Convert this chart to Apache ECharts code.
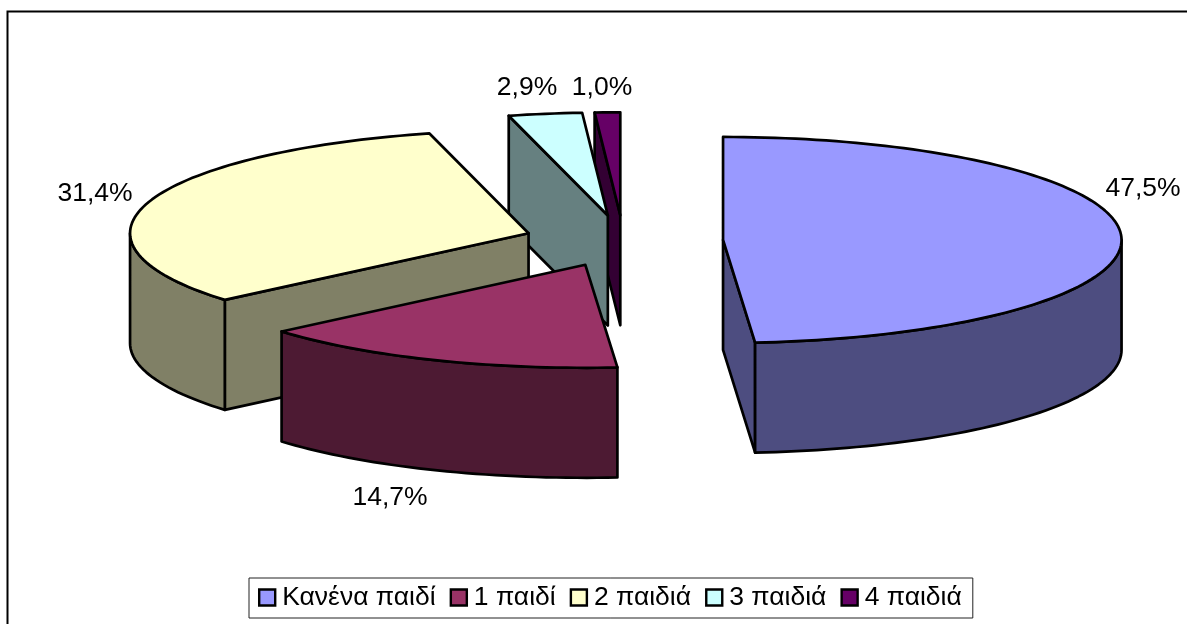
<!DOCTYPE html>
<html>
<head>
<meta charset="utf-8">
<style>html,body{margin:0;padding:0;background:#fff;overflow:hidden}#c{width:1187px;height:624px}</style>
<script src="https://cdn.jsdelivr.net/npm/echarts@6/dist/echarts.min.js"></script>
</head>
<body>
<div id="c"></div>
<script>
const categories = ['Κανένα παιδί', '1 παιδί', '2 παιδιά', '3 παιδιά', '4 παιδιά'];
const shares = [47.5, 14.7, 31.4, 2.9, 1.0];
const shareLabels = ['47,5%', '14,7%', '31,4%', '2,9%', '1,0%'];
const topColors = ['#9999FF', '#993366', '#FFFFCC', '#CCFFFF', '#660066'];
const wallColors = ['#4D4D80', '#4D1A33', '#808066', '#668080', '#330033'];

const pie = { cx: 623.5, cy: 241, rx: 398.5, ry: 103, depth: 110, explode: 0.25 };
const labelCentres = [[1143, 188.5], [390, 498], [95, 194], [527, 88], [602, 88]];

const total = shares.reduce((a, b) => a + b, 0);
const rad = Math.PI / 180;

function rim(ox, oy, a) {
  return [ox + pie.rx * Math.sin(a * rad), oy - pie.ry * Math.cos(a * rad)];
}
function arc(ox, oy, a0, a1) {
  const pts = [];
  const n = Math.max(2, Math.ceil(Math.abs(a1 - a0) / 1.5));
  for (let i = 0; i <= n; i++) pts.push(rim(ox, oy, a0 + (a1 - a0) * i / n));
  return pts;
}
const drop = p => [p[0], p[1] + pie.depth];
const edge = { stroke: '#000', lineWidth: 2.7, lineJoin: 'round' };

function sliceRenderer(index) {
  return function (params, api) {
    const share = api.value(0);
    let before = 0;
    for (let i = 0; i < index; i++) before += shares[i];
    const a0 = before / total * 360;
    const a1 = a0 + share / total * 360;
    const mid = (a0 + a1) / 2;
    const ox = pie.cx + pie.explode * pie.rx * Math.sin(mid * rad);
    const oy = pie.cy - pie.explode * pie.ry * Math.cos(mid * rad);
    const apex = [ox, oy];
    const wallFill = { fill: wallColors[index], ...edge };
    const children = [];
    const radialWall = a => {
      const p = rim(ox, oy, a);
      children.push({ type: 'polygon', shape: { points: [apex, p, drop(p), drop(apex)] }, style: wallFill });
    };
    if (Math.sin(a0 * rad) < -1e-6) radialWall(a0);
    if (Math.sin(a1 * rad) > 1e-6) radialWall(a1);
    const f0 = Math.max(a0, 90), f1 = Math.min(a1, 270);
    if (f1 > f0) {
      const upper = arc(ox, oy, f0, f1);
      children.push({ type: 'polygon', shape: { points: upper.concat(upper.slice().reverse().map(drop)) }, style: wallFill });
    }
    children.push({ type: 'polygon', shape: { points: [apex].concat(arc(ox, oy, a0, a1)) }, style: { fill: topColors[index], ...edge } });
    children.push({
      type: 'text',
      style: {
        text: shareLabels[index], x: labelCentres[index][0], y: labelCentres[index][1],
        align: 'center', verticalAlign: 'middle', fill: '#000',
        font: '26.5px "Liberation Sans", Arial, sans-serif'
      }
    });
    return { type: 'group', children };
  };
}

const chart = echarts.init(document.getElementById('c'), null, { renderer: 'canvas' });
chart.setOption({
  animation: false,
  backgroundColor: '#fff',
  tooltip: { show: false },
  graphic: [
    { type: 'polyline', silent: true, z: 0, shape: { points: [[7.5, 700], [7.5, 11.5], [1300, 11.5]] }, style: { stroke: '#000', lineWidth: 2, fill: null } }
  ],
  legend: {
    show: true, left: 249, top: 578, orient: 'horizontal',
    padding: [6, 11, 7, 9],
    backgroundColor: '#fff', borderColor: '#222', borderWidth: 1,
    icon: 'rect', itemWidth: 16, itemHeight: 16, itemGap: 14,
    selectedMode: false,
    itemStyle: { borderColor: '#000', borderWidth: 2.4 },
    textStyle: { color: '#000', fontFamily: '"Liberation Sans", Arial, sans-serif', fontSize: 26.5, padding: [0, 0, 0, 2] },
    data: categories
  },
  series: categories.map((name, i) => ({
    type: 'custom', name, coordinateSystem: 'none', z: 10 - i,
    itemStyle: { color: topColors[i] },
    data: [[shares[i]]],
    renderItem: sliceRenderer(i),
    silent: true
  }))
});
</script>
</body>
</html>
